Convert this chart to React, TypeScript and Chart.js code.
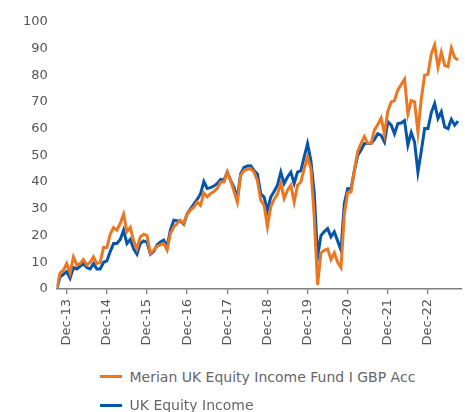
import React, { useEffect, useRef } from "react";
import { Chart, registerables } from "chart.js";

Chart.register(...registerables);

// Monthly index values, Sep-13 .. Sep-23 (index 0 = Sep-13)
const fundLabel = "Merian UK Equity Income Fund I GBP Acc";
const sectorLabel = "UK Equity Income";

const fundValues = [
  0, 6, 7, 9.5, 6, 12, 9, 9.5, 11, 9, 10, 12, 9.5, 10, 15.5, 15.5, 20.5, 23, 22, 24.5,
  28, 21.5, 23, 18, 15, 19.5, 20.5, 20, 13.3, 14.5, 16, 16.5, 17, 14.6, 20.8, 23.2, 24.5, 25.7, 24.4, 28.1,
  29.5, 30.6, 32.5, 31.3, 35.9, 34.5, 35.7, 36.5, 37.6, 40, 40, 43.7, 40.6, 36.5, 32.5, 42.5, 44.3, 44.8, 45, 43.7,
  40.6, 33.2, 31.3, 23.3, 30.8, 33.5, 35.5, 39.5, 33.9, 37, 38.8, 32.5, 38.8, 40, 45, 49.4, 45, 27, 1.5, 13.5,
  14.5, 15, 11, 13.5, 10, 8, 28, 36, 36.3, 44.5, 51.5, 54.5, 57, 54.5, 54.5, 59.5, 61.5, 64, 58, 66.5,
  70, 70.5, 74.5, 76.5, 78.5, 65.5, 70.5, 70, 58.8, 71, 80, 80.3, 88, 91.3, 83, 88.6, 83.6, 83.2, 90.2, 86.5,
  85.7,
];

const sectorValues = [
  0, 4.5, 5.5, 6.5, 4, 8, 7.5, 8.5, 9.5, 8, 7.5, 9.5, 7.5, 7.5, 10, 10.5, 14, 17, 17, 18.5,
  22, 17, 18.5, 15, 13, 17, 18, 17.5, 13, 14, 16.5, 17.6, 18.3, 15.8, 22, 25.7, 25.5, 25.4, 24.2, 28.1,
  30, 31.8, 33.5, 35.6, 40.2, 37.6, 37.9, 38.5, 39.5, 41, 40.7, 43.7, 40.6, 38, 34, 43, 45.5, 46, 46.1, 44.3,
  43, 35.6, 34.4, 29.4, 34.4, 36.5, 38.8, 43.7, 39.5, 41.9, 43.7, 39.5, 43.7, 44.3, 49.4, 54.4, 48, 36, 12, 20,
  21.5, 22.6, 19.5, 21.4, 18, 14.5, 32, 37.6, 37.5, 44.3, 50, 52, 54.4, 54.4, 54.4, 56, 58.1, 57.5, 55, 62.6,
  61.3, 58.1, 61.9, 62.1, 63, 53.8, 58.5, 55, 43.7, 51.5, 60, 60, 66, 69.4, 63.8, 66.3, 60.6, 60, 63.5, 61.3,
  62.8,
];

const xTickLabels = [
  "Dec-13", "Dec-14", "Dec-15", "Dec-16", "Dec-17", "Dec-18", "Dec-19", "Dec-20", "Dec-21", "Dec-22",
];
const firstTickIndex = 3; // Dec-13 is the 4th month of the series
const monthsPerTick = 12;

const yTicks = [0, 10, 20, 30, 40, 50, 60, 70, 80, 90, 100];

const ORANGE = "#EC7723";
const BLUE = "#0755A8";
const AXIS = "#7f7f7f";
const TEXT = "#555555";
const FONT = "'DejaVu Sans', sans-serif";

export default function App() {
  const ref = useRef<HTMLCanvasElement | null>(null);

  useEffect(() => {
    if (!ref.current) return;
    const toPts = (arr: number[]) => arr.map((v, i) => ({ x: i, y: v }));
    const chart = new Chart(ref.current, {
      type: "line",
      data: {
        datasets: [
          {
            label: fundLabel,
            data: toPts(fundValues),
            borderColor: ORANGE,
            backgroundColor: ORANGE,
            borderWidth: 3,
            pointRadius: 0,
            tension: 0,
          },
          {
            label: sectorLabel,
            data: toPts(sectorValues),
            borderColor: BLUE,
            backgroundColor: BLUE,
            borderWidth: 3,
            pointRadius: 0,
            tension: 0,
          },
        ],
      },
      options: {
        animation: false,
        responsive: false,
        maintainAspectRatio: false,
        layout: { padding: { top: 21.7, right: 3.6, left: 0, bottom: 0 } },
        plugins: {
          legend: { display: false },
          tooltip: { enabled: false },
        },
        scales: {
          x: {
            type: "linear",
            bounds: "data",
            min: 0,
            max: fundValues.length,
            grid: {
              display: true,
              drawOnChartArea: false,
              drawTicks: true,
              tickLength: 5,
              color: AXIS,
              lineWidth: 1.3,
            },
            border: { display: true, color: AXIS, width: 1.6 },
            ticks: {
              autoSkip: false,
              maxRotation: 90,
              minRotation: 90,
              padding: 5,
              color: TEXT,
              font: { family: FONT, size: 13 },
              callback: (_v: any, idx: number) => xTickLabels[idx] ?? "",
            },
            afterBuildTicks: (scale: any) => {
              scale.ticks = xTickLabels.map((_, k) => ({
                value: firstTickIndex + k * monthsPerTick,
              }));
            },
            afterFit: (scale: any) => {
              scale.height = 66;
            },
          },
          y: {
            min: 0,
            max: 100,
            grid: { display: false, drawTicks: false, tickLength: 0 },
            border: { display: false },
            ticks: {
              padding: 9,
              color: TEXT,
              font: { family: FONT, size: 13 },
            },
            afterBuildTicks: (scale: any) => {
              scale.ticks = yTicks.map((v) => ({ value: v }));
            },
            afterFit: (scale: any) => {
              scale.width = 56.7;
            },
          },
        },
      },
    });
    return () => chart.destroy();
  }, []);

  const legendItems = [
    { label: fundLabel, color: ORANGE, top: 366.7 },
    { label: sectorLabel, color: BLUE, top: 395 },
  ];

  return (
    <div
      style={{
        position: "fixed",
        left: 0,
        top: 0,
        width: 465,
        height: 412,
        background: "#fff",
        fontFamily: FONT,
      }}
    >
      <canvas ref={ref} width={465} height={355} style={{ display: "block", width: 465, height: 355 }} />
      {legendItems.map((it) => (
        <div
          key={it.label}
          style={{
            position: "absolute",
            left: 99.5,
            top: it.top,
            height: 20,
            display: "flex",
            alignItems: "center",
            whiteSpace: "nowrap",
          }}
        >
          <span style={{ display: "inline-block", width: 22, height: 3, background: it.color, marginRight: 8 }} />
          <span style={{ fontSize: 14, color: "#666666", lineHeight: "20px" }}>{it.label}</span>
        </div>
      ))}
    </div>
  );
}
